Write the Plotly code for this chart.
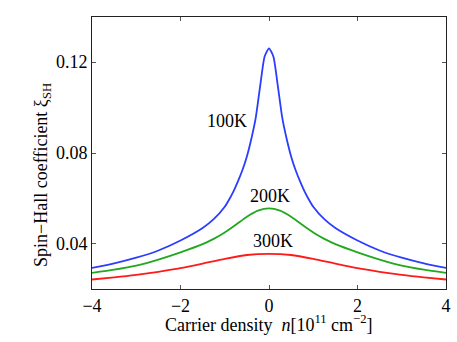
import plotly.graph_objects as go

# carrier density n [10^11 cm^-2], symmetric sampling
n_half = [0.0, 0.1, 0.2, 0.3, 0.4, 0.5, 0.6, 0.7, 0.8, 0.9, 1.0, 1.25, 1.5, 2.0, 2.5, 3.0, 3.5, 4.0]
xi_100k_half = [0.1262, 0.1225, 0.1095, 0.0955, 0.0862, 0.0785, 0.0725, 0.0676, 0.0632, 0.0595,
                0.0563, 0.0508, 0.0469, 0.0414, 0.0370, 0.0338, 0.0313, 0.0293]

n_half_wide = [0.0, 0.25, 0.5, 0.75, 1.0, 1.25, 1.5, 2.0, 2.5, 3.0, 3.5, 4.0]
xi_200k_half = [0.0556, 0.0546, 0.0519, 0.0483, 0.0449, 0.0421, 0.0398, 0.0362,
                0.0330, 0.0303, 0.0285, 0.0271]

n_half_red = [0.0, 0.5, 1.0, 1.5, 2.0, 2.5, 3.0, 3.5, 4.0]
xi_300k_half = [0.0355, 0.0350, 0.0333, 0.0312, 0.0292, 0.0276, 0.0262, 0.0251, 0.0242]

curve_labels = ["100K", "200K", "300K"]
label_x = [-0.96, 0.02, 0.1]
label_y = [0.0942, 0.0612, 0.0410]

x_ticks = [-4, -2, 0, 2, 4]
x_tick_text = ["\u22124", "\u22122", "0", "2", "4"]
y_ticks = [0.04, 0.08, 0.12]
y_tick_text = ["0.04", "0.08", "0.12"]

FONT = "Liberation Serif"
FONT_SIZE = 18
COLORS = ["#2b3dff", "#22a81e", "#ff1a1a"]


def mirror(xs, ys):
    # the curves are even in n: left branch is the right one reflected
    left_x = [-v for v in reversed(xs[1:])]
    left_y = list(reversed(ys[1:]))
    return left_x + list(xs), left_y + list(ys)


fig = go.Figure()
for (xs, ys), color in zip(
    [(n_half, xi_100k_half), (n_half_wide, xi_200k_half), (n_half_red, xi_300k_half)],
    COLORS,
):
    fx, fy = mirror(xs, ys)
    fig.add_trace(go.Scatter(
        x=fx, y=fy, mode="lines",
        line=dict(color=color, width=1.8, shape="spline", smoothing=0.6),
        showlegend=False, hoverinfo="skip",
    ))

for text, lx, ly in zip(curve_labels, label_x, label_y):
    fig.add_annotation(x=lx, y=ly, text=text, showarrow=False,
                       font=dict(family=FONT, size=FONT_SIZE, color="black"))

# y tick labels sit tight against the axis, as in the original
for val, txt in zip(y_ticks, y_tick_text):
    fig.add_annotation(xref="paper", x=-0.006, xanchor="right", y=val, yref="y",
                       text=txt, showarrow=False,
                       font=dict(family=FONT, size=FONT_SIZE, color="black"))

axis_common = dict(
    showline=True, linecolor="#222", linewidth=1, mirror="ticks",
    ticks="inside", ticklen=4, tickcolor="#555",
    showgrid=False, zeroline=False, automargin=False,
    tickfont=dict(family=FONT, size=FONT_SIZE, color="black"),
)
fig.update_xaxes(range=[-4, 4], tickvals=x_ticks, ticktext=x_tick_text, **axis_common)
fig.update_yaxes(range=[0.02, 0.14], tickvals=y_ticks, showticklabels=False, **axis_common)

fig.add_annotation(
    xref="paper", yref="paper", x=0.5, y=-0.125, yanchor="middle",
    text="Carrier density  <i>n</i>[10<sup>11</sup> cm<sup>\u22122</sup>]",
    showarrow=False, font=dict(family=FONT, size=FONT_SIZE, color="black"),
)
fig.add_annotation(
    xref="paper", yref="paper", x=-0.138, xanchor="center", y=0.42, yanchor="middle",
    text="Spin\u2212Hall coefficient \u03be<sub>SH</sub>", textangle=-90,
    showarrow=False, font=dict(family=FONT, size=FONT_SIZE, color="black"),
)

fig.update_layout(
    width=457, height=342,
    margin=dict(l=92, r=11, t=17, b=53),
    paper_bgcolor="white", plot_bgcolor="white",
)

fig.write_html(
    "out.html",
    config={"displayModeBar": False},
    post_script="document.body.style.margin='0';document.body.style.overflow='hidden';",
)
